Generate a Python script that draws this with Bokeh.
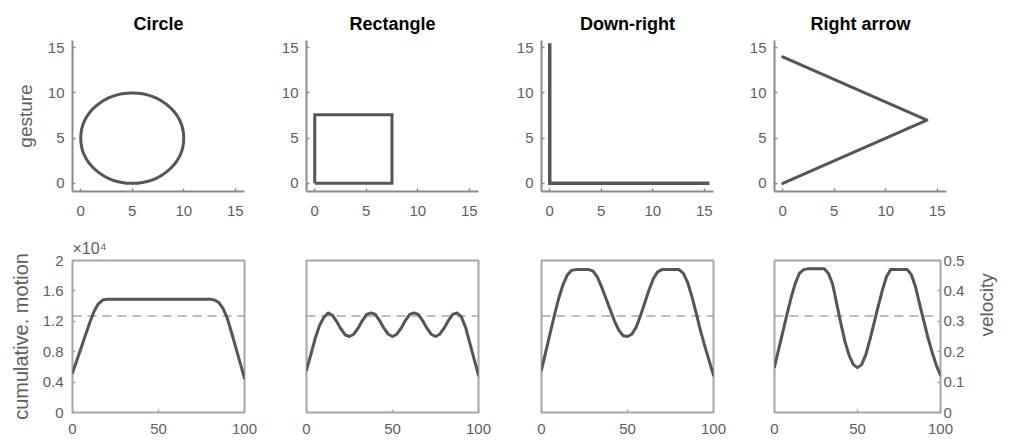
import math
from bokeh.plotting import figure
from bokeh.layouts import column, row
from bokeh.models import Range1d, LinearAxis, FixedTicker, Span, Title
from bokeh.embed import file_html
from bokeh.resources import INLINE

# ---------------- data ----------------
titles = ["Circle", "Rectangle", "Down-right", "Right arrow"]

circle_center_x = [5]
circle_center_y = [5]
circle_diameter = [10]
rect_x = [0, 7.5, 7.5, 0, 0]
rect_y = [0, 0, 7.6, 7.6, 0]
downright_x = [0, 0, 15.5]
downright_y = [15.5, 0, 0]
arrow_x = [0, 14, 0]
arrow_y = [0, 7, 14]

gesture_ticks = [0, 5, 10, 15]
time_ticks = [0, 50, 100]
motion_ticks = [0, 0.4, 0.8, 1.2, 1.6, 2]
motion_tick_labels = ["0", "0.4", "0.8", "1.2", "1.6", "2"]
velocity_ticks = [0, 0.1, 0.2, 0.3, 0.4, 0.5]
velocity_tick_labels = ["0", "0.1", "0.2", "0.3", "0.4", "0.5"]

mean_level = 1.27  # x10^4

t_circle = [0, 2.5, 5, 7.5, 10, 12.5, 15, 17.5, 20, 22.5, 77.5, 80, 82.5, 85,
            87.5, 90, 92.5, 95, 97.5, 100]
m_circle = [0.52, 0.685, 0.85, 1.015, 1.18, 1.33, 1.43, 1.48, 1.49, 1.49, 1.49,
            1.49, 1.48, 1.45, 1.37, 1.24, 1.05, 0.85, 0.65, 0.45]

t_rect = [0, 2.5, 5, 7.5, 10, 12.5, 15, 17.5, 20, 22.5, 25, 27.5, 30, 32.5, 35,
          37.5, 40, 42.5, 45, 47.5, 50, 52.5, 55, 57.5, 60, 62.5, 65, 67.5, 70,
          72.5, 75, 77.5, 80, 82.5, 85, 87.5, 90, 92.5, 95, 97.5, 100]
m_rect = [0.56, 0.76, 0.97, 1.14, 1.25, 1.31, 1.28, 1.20, 1.10, 1.02, 1.00,
          1.03, 1.11, 1.21, 1.29, 1.31, 1.29, 1.21, 1.11, 1.03, 1.00, 1.03,
          1.11, 1.21, 1.29, 1.31, 1.29, 1.21, 1.11, 1.03, 1.00, 1.03, 1.11,
          1.21, 1.29, 1.31, 1.26, 1.12, 0.91, 0.70, 0.49]

t_down = [0, 2.5, 5, 7.5, 10, 12.5, 15, 17.5, 20, 27.5, 30, 32.5, 35, 37.5, 40,
          42.5, 45, 47.5, 50, 52.5, 55, 57.5, 60, 62.5, 65, 67.5, 70, 80, 82.5,
          85, 87.5, 90, 92.5, 95, 97.5, 100]
m_down = [0.56, 0.80, 1.04, 1.28, 1.50, 1.68, 1.81, 1.87, 1.88, 1.88, 1.86,
          1.78, 1.65, 1.50, 1.35, 1.20, 1.08, 1.01, 1.00, 1.03, 1.12, 1.27,
          1.44, 1.61, 1.76, 1.85, 1.88, 1.88, 1.83, 1.71, 1.52, 1.30, 1.07,
          0.87, 0.68, 0.49]

t_arrow = [0, 2.5, 5, 7.5, 10, 12.5, 15, 17.5, 20, 30, 32.5, 35, 37.5, 40, 42.5,
           45, 47.5, 50, 52.5, 55, 57.5, 60, 62.5, 65, 67.5, 70, 80, 82.5, 85,
           87.5, 90, 92.5, 95, 97.5, 100]
m_arrow = [0.60, 0.83, 1.06, 1.29, 1.51, 1.70, 1.83, 1.88, 1.89, 1.89, 1.83,
           1.69, 1.43, 1.17, 0.93, 0.75, 0.63, 0.59, 0.63, 0.76, 0.96, 1.18,
           1.40, 1.61, 1.79, 1.88, 1.88, 1.81, 1.65, 1.42, 1.20, 0.98, 0.79,
           0.62, 0.49]

# ---------------- style ----------------
FONT = "Liberation Sans"
CURVE = "#555555"
AXIS = "#8a8a8a"
BOX = "#a6a6a6"
TXT = "#5e5e5e"

widths = [275, 235, 233, 267]
lefts = [72, 31, 31, 31]
rights = [31, 32, 30, 64]


def style_axis(ax, ticks, color, width, standoff=6):
    ax.ticker = FixedTicker(ticks=ticks, minor_ticks=[])
    ax.axis_line_color = color
    ax.axis_line_width = width
    ax.major_tick_line_color = color if color else BOX
    ax.major_tick_line_width = 1.5
    ax.major_tick_in = 3
    ax.major_tick_out = 0
    ax.minor_tick_line_color = None
    ax.major_label_text_font = FONT
    ax.major_label_text_color = TXT
    ax.major_label_text_font_size = "15px"
    ax.major_label_standoff = standoff
    ax.axis_label_text_font = FONT
    ax.axis_label_text_font_style = "normal"
    ax.axis_label_text_color = TXT


def top_fig(i):
    p = figure(width=widths[i], height=225, min_border_left=lefts[i],
               min_border_right=rights[i], min_border_top=40, min_border_bottom=34,
               x_range=Range1d(-0.8, 15.9), y_range=Range1d(-0.9, 15.8),
               output_backend="svg", toolbar_location=None, title=titles[i])
    p.outline_line_color = None
    p.grid.grid_line_color = None
    p.background_fill_color = "white"
    p.border_fill_color = "white"
    p.title.align = "center"
    p.title.text_font = FONT
    p.title.text_font_size = "18px"
    p.title.text_font_style = "bold"
    p.title.text_color = "black"
    p.title.standoff = 13
    style_axis(p.xaxis[0], gesture_ticks, AXIS, 2, standoff=14)
    style_axis(p.yaxis[0], gesture_ticks, AXIS, 2, standoff=8)
    return p


def bottom_fig(i, t, m):
    p = figure(width=widths[i], height=216, min_border_left=lefts[i],
               min_border_right=rights[i], min_border_top=35, min_border_bottom=29,
               x_range=Range1d(0, 100), y_range=Range1d(0, 2),
               y_axis_location="left" if i == 0 else None,
               output_backend="svg", toolbar_location=None)
    p.outline_line_color = BOX
    p.outline_line_width = 2
    p.grid.grid_line_color = None
    p.background_fill_color = "white"
    p.border_fill_color = "white"
    style_axis(p.xaxis[0], time_ticks, None, 0, standoff=11)
    if i == 0:
        ax = p.yaxis[0]
        style_axis(ax, motion_ticks, None, 0, standoff=9)
        ax.major_label_overrides = dict(zip(motion_ticks, motion_tick_labels))
        ax.axis_label = "cumulative. motion"
        ax.axis_label_text_font_size = "20px"
        ax.axis_label_standoff = 8
        exp_title = Title(text="\u00d710\u2074", align="left", text_font=FONT,
                          text_font_size="16px", text_font_style="normal",
                          text_color=TXT, standoff=8)
        p.add_layout(exp_title, "above")
    if i == 3:
        p.extra_y_ranges = {"vel": Range1d(0, 0.5)}
        vax = LinearAxis(y_range_name="vel")
        style_axis(vax, velocity_ticks, None, 0, standoff=3)
        vax.major_label_overrides = dict(zip(velocity_ticks, velocity_tick_labels))
        vax.axis_label = "velocity"
        vax.axis_label_text_font_size = "19px"
        vax.axis_label_standoff = 19
        vax.axis_label_orientation = math.pi / 2
        p.add_layout(vax, "right")
    span = Span(location=mean_level, dimension="width", line_color=BOX,
                line_width=1.5, line_dash="9 6", level="underlay")
    p.add_layout(span)
    p.line(t, m, line_color=CURVE, line_width=3, line_join="round",
           line_cap="round")
    return p


tops = [top_fig(i) for i in range(4)]
tops[0].yaxis[0].axis_label = "gesture"
tops[0].yaxis[0].axis_label_text_font_size = "19px"
tops[0].yaxis[0].axis_label_standoff = 9

tops[0].ellipse(x=circle_center_x, y=circle_center_y, width=circle_diameter,
                height=circle_diameter, fill_color=None, line_color=CURVE,
                line_width=3)
tops[1].line(rect_x, rect_y, line_color=CURVE, line_width=3, line_join="miter")
tops[2].line(downright_x, downright_y, line_color=CURVE, line_width=3.5,
             line_join="miter")
tops[3].line(arrow_x, arrow_y, line_color=CURVE, line_width=3,
             line_join="round", line_cap="round")

series = [(t_circle, m_circle), (t_rect, m_rect), (t_down, m_down), (t_arrow, m_arrow)]
bottoms = [bottom_fig(i, t, m) for i, (t, m) in enumerate(series)]

layout = column(row(*tops), row(*bottoms))

with open("out.html", "w") as f:
    f.write(file_html(layout, INLINE))
